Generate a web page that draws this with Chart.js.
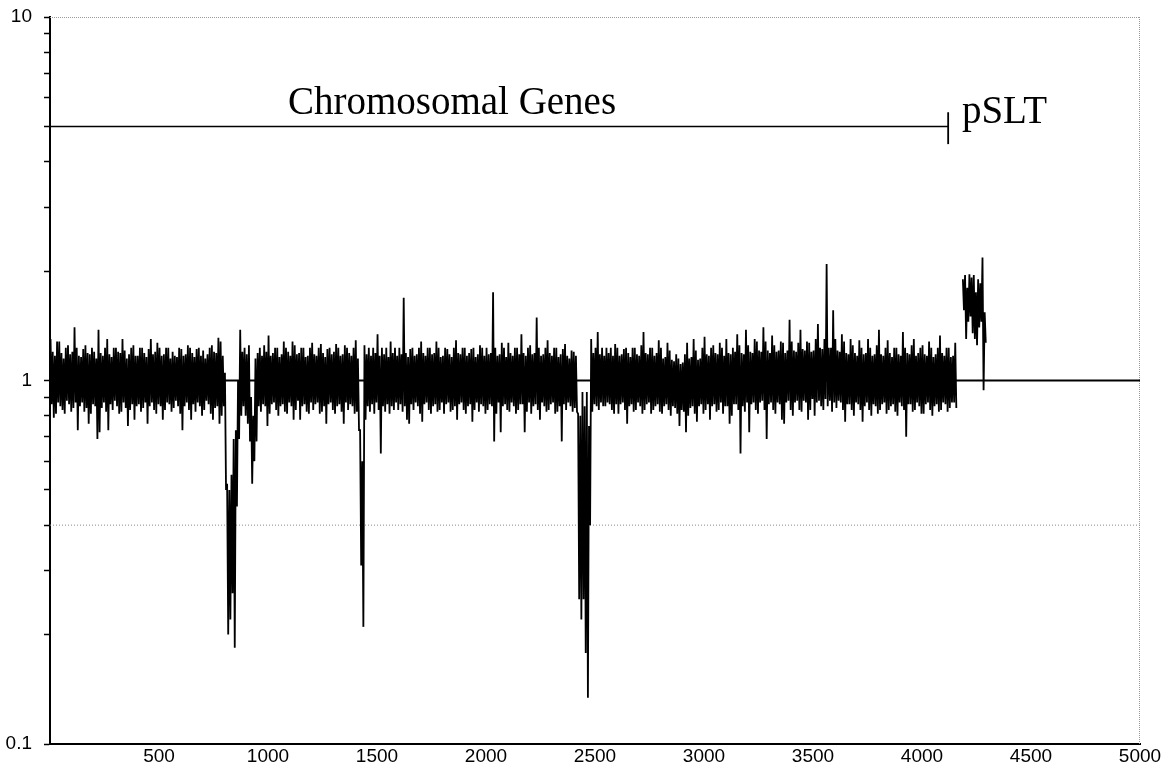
<!DOCTYPE html>
<html>
<head>
<meta charset="utf-8">
<title>Chromosomal Genes / pSLT</title>
<script src="https://cdn.jsdelivr.net/npm/chart.js@4.4.1/dist/chart.umd.min.js"></script>
<style>
  html, body { margin: 0; padding: 0; background: #fff; }
  #wrap { width: 1163px; height: 764px; }
</style>
</head>
<body>
<div id="wrap"><canvas id="ratioChart" width="1163" height="764"></canvas></div>
<script>
const binWidth = 10;

const chromStart = 0;
const chromHigh = [
  1.30,1.20,1.17,1.28,1.28,1.19,1.15,1.23,1.25,1.18,1.20,1.40,1.23,1.17,1.16,1.22,1.25,1.19,1.18,1.23,
  1.20,1.15,1.38,1.19,1.17,1.23,1.30,1.18,1.16,1.23,1.23,1.20,1.19,1.30,1.21,1.15,1.18,1.23,1.25,1.17,
  1.17,1.23,1.23,1.19,1.16,1.22,1.30,1.18,1.20,1.27,1.23,1.17,1.18,1.23,1.23,1.15,1.20,1.17,1.16,1.23,
  1.22,1.17,1.18,1.25,1.23,1.19,1.16,1.22,1.23,1.17,1.21,1.15,1.18,1.23,1.25,1.20,1.19,1.31,1.28,1.17,
  1.05,0.52,0.50,0.55,0.69,0.73,1.00,1.38,1.20,1.23,1.18,1.25,0.90,0.80,1.15,1.19,1.23,1.17,1.25,1.20,
  1.33,1.17,1.19,1.23,1.23,1.16,1.18,1.28,1.23,1.20,1.17,1.28,1.25,1.18,1.19,1.23,1.23,1.16,1.17,1.23,
  1.27,1.18,1.17,1.23,1.26,1.19,1.16,1.22,1.23,1.18,1.20,1.26,1.23,1.17,1.18,1.25,1.23,1.19,1.17,1.23,
  1.29,1.15,0.73,0.60,1.25,1.18,1.23,1.17,1.23,1.19,1.34,1.17,1.23,1.18,1.23,1.16,1.28,1.19,1.23,1.17,
  1.23,1.18,1.69,1.19,1.16,1.22,1.23,1.17,1.18,1.23,1.28,1.19,1.17,1.23,1.23,1.18,1.19,1.28,1.23,1.16,
  1.17,1.23,1.22,1.18,1.16,1.23,1.29,1.19,1.18,1.23,1.23,1.17,1.19,1.22,1.23,1.16,1.18,1.25,1.23,1.17,
  1.23,1.18,1.19,1.75,1.23,1.17,1.18,1.27,1.23,1.16,1.27,1.19,1.17,1.23,1.23,1.18,1.34,1.19,1.17,1.23,
  1.25,1.18,1.19,1.49,1.23,1.17,1.18,1.23,1.29,1.19,1.17,1.23,1.23,1.16,1.18,1.22,1.26,1.17,1.15,1.21,
  1.20,1.17,0.81,0.80,0.93,0.85,0.93,0.75,1.30,1.19,1.23,1.36,1.18,1.23,1.17,1.23,1.19,1.23,1.17,1.26,
  1.23,1.17,1.18,1.22,1.23,1.19,1.16,1.23,1.23,1.18,1.17,1.25,1.36,1.19,1.18,1.23,1.23,1.17,1.19,1.29,
  1.23,1.15,1.16,1.27,1.21,1.14,1.13,1.18,1.15,1.11,1.12,1.18,1.27,1.15,1.16,1.30,1.21,1.14,1.15,1.23,
  1.32,1.18,1.17,1.23,1.25,1.19,1.18,1.27,1.23,1.17,1.30,1.19,1.18,1.23,1.20,1.34,1.25,1.19,1.18,1.38,
  1.25,1.20,1.19,1.30,1.28,1.21,1.20,1.40,1.28,1.21,1.19,1.33,1.25,1.20,1.21,1.28,1.27,1.19,1.21,1.47,
  1.28,1.21,1.20,1.27,1.38,1.22,1.21,1.28,1.27,1.20,1.21,1.30,1.43,1.23,1.22,1.30,2.09,1.23,1.23,1.56,
  1.30,1.21,1.20,1.34,1.28,1.19,1.18,1.30,1.25,1.19,1.17,1.29,1.23,1.18,1.19,1.30,1.23,1.17,1.18,1.25,
  1.38,1.18,1.17,1.23,1.29,1.19,1.16,1.23,1.23,1.18,1.17,1.36,1.23,1.19,1.18,1.25,1.30,1.17,1.19,1.23,
  1.25,1.18,1.17,1.28,1.23,1.16,1.18,1.23,1.33,1.19,1.17,1.23,1.23,1.16,1.17,1.27
];
const chromLow = [
  0.86,0.79,0.81,0.87,0.85,0.83,0.81,0.88,0.86,0.82,0.84,0.87,0.73,0.85,0.87,0.82,0.84,0.76,0.81,0.86,
  0.85,0.69,0.72,0.84,0.87,0.82,0.73,0.86,0.83,0.88,0.85,0.81,0.82,0.87,0.84,0.75,0.83,0.86,0.78,0.85,
  0.86,0.82,0.84,0.87,0.76,0.85,0.87,0.83,0.81,0.86,0.85,0.78,0.83,0.87,0.86,0.82,0.84,0.88,0.85,0.81,
  0.73,0.85,0.87,0.83,0.78,0.86,0.82,0.87,0.85,0.80,0.83,0.88,0.86,0.81,0.78,0.84,0.85,0.76,0.80,0.85,
  0.50,0.20,0.22,0.26,0.184,0.45,0.69,0.80,0.85,0.80,0.76,0.68,0.52,0.60,0.68,0.85,0.82,0.86,0.85,0.75,
  0.81,0.86,0.87,0.83,0.80,0.85,0.86,0.82,0.81,0.87,0.85,0.78,0.83,0.88,0.78,0.85,0.86,0.82,0.81,0.87,
  0.83,0.86,0.87,0.81,0.82,0.85,0.76,0.86,0.87,0.83,0.81,0.85,0.86,0.82,0.76,0.87,0.83,0.86,0.85,0.81,
  0.82,0.73,0.31,0.21,0.78,0.85,0.82,0.86,0.81,0.87,0.83,0.63,0.85,0.82,0.86,0.81,0.85,0.83,0.87,0.83,
  0.86,0.82,0.85,0.78,0.76,0.86,0.83,0.87,0.85,0.81,0.77,0.86,0.87,0.83,0.81,0.85,0.86,0.82,0.83,0.87,
  0.81,0.86,0.87,0.82,0.83,0.85,0.78,0.86,0.87,0.83,0.81,0.85,0.86,0.77,0.83,0.87,0.82,0.86,0.85,0.81,
  0.83,0.86,0.85,0.68,0.81,0.87,0.72,0.85,0.86,0.83,0.82,0.87,0.85,0.81,0.83,0.86,0.86,0.72,0.82,0.87,
  0.81,0.85,0.86,0.83,0.78,0.87,0.85,0.82,0.83,0.86,0.87,0.81,0.82,0.85,0.68,0.86,0.83,0.87,0.85,0.82,
  0.84,0.82,0.25,0.22,0.25,0.178,0.134,0.40,0.82,0.86,0.85,0.83,0.87,0.85,0.85,0.87,0.86,0.83,0.81,0.86,
  0.81,0.86,0.87,0.83,0.76,0.85,0.86,0.82,0.83,0.87,0.85,0.81,0.83,0.86,0.87,0.81,0.83,0.85,0.86,0.82,
  0.81,0.85,0.86,0.83,0.80,0.85,0.84,0.81,0.75,0.83,0.82,0.72,0.80,0.84,0.85,0.81,0.77,0.85,0.86,0.81,
  0.83,0.86,0.78,0.85,0.86,0.82,0.83,0.87,0.81,0.85,0.85,0.76,0.80,0.86,0.86,0.83,0.63,0.85,0.82,0.87,
  0.72,0.86,0.87,0.83,0.81,0.87,0.88,0.83,0.69,0.86,0.87,0.83,0.81,0.87,0.86,0.78,0.76,0.87,0.88,0.83,
  0.80,0.87,0.88,0.83,0.82,0.88,0.87,0.78,0.83,0.89,0.80,0.87,0.88,0.85,0.83,0.89,0.85,0.88,0.82,0.87,
  0.84,0.88,0.87,0.83,0.77,0.86,0.86,0.83,0.80,0.87,0.86,0.83,0.77,0.85,0.87,0.83,0.80,0.86,0.85,0.81,
  0.83,0.86,0.87,0.81,0.83,0.85,0.86,0.82,0.80,0.87,0.85,0.83,0.70,0.86,0.86,0.82,0.83,0.87,0.85,0.81,
  0.81,0.86,0.87,0.83,0.80,0.85,0.86,0.82,0.83,0.87,0.86,0.82,0.84,0.87,0.87,0.84
];

// plasmid genes
const psltStart = 4185;
const psltHigh = [1.90, 1.95, 1.80, 1.96, 1.92, 1.95, 1.75, 1.90, 1.85, 2.18, 1.54];
const psltLow  = [1.56, 1.30, 1.45, 1.50, 1.35, 1.30, 1.25, 1.40, 1.45, 0.94, 1.27];

const xTicks = [500, 1000, 1500, 2000, 2500, 3000, 3500, 4000, 4500, 5000];
const yTicks = [0.1, 0.2, 0.3, 0.4, 0.5, 0.6, 0.7, 0.8, 0.9, 1, 2, 3, 4, 5, 6, 7, 8, 9, 10];
const yLabels = [0.1, 1, 10];

const baselineY = 1;
const cutoffY = 0.4;
const bracketY = 5;
const bracketEnd = 4120;
const bracketTick = [4.47, 5.47];

const regionLabels = [
  { text: 'Chromosomal Genes', x: 1844, y: 5.41, align: 'center' },
  { text: 'pSLT', x: 4183, y: 5.11, align: 'left' }
];

function binPoints(start, high, low) {
  const pts = [];
  high.forEach((h, i) => {
    pts.push({ x: start + i * binWidth + 2.5, y: h });
    pts.push({ x: start + i * binWidth + 7.5, y: low[i] });
  });
  return pts;
}

const series = [
  ...binPoints(chromStart, chromHigh, chromLow),
  { x: 4172, y: null },
  ...binPoints(psltStart, psltHigh, psltLow)
];

const framePlugin = {
  id: 'frame',
  beforeDatasetsDraw(chart) {
    const { ctx, chartArea: a } = chart;
    ctx.save();
    ctx.strokeStyle = '#9a9a9a';
    ctx.lineWidth = 1;
    ctx.setLineDash([1, 1]);
    ctx.beginPath();
    ctx.moveTo(a.left, a.top + 0.5);
    ctx.lineTo(a.right, a.top + 0.5);
    ctx.moveTo(a.right - 0.5, a.top);
    ctx.lineTo(a.right - 0.5, a.bottom);
    ctx.stroke();
    ctx.restore();
  }
};

const labelPlugin = {
  id: 'regionLabels',
  afterDatasetsDraw(chart) {
    const { ctx, scales: { x, y } } = chart;
    ctx.save();
    ctx.fillStyle = '#000';
    ctx.font = '39px "Liberation Serif", "Times New Roman", serif';
    ctx.textBaseline = 'alphabetic';
    regionLabels.forEach(l => {
      ctx.textAlign = l.align;
      ctx.fillText(l.text, x.getPixelForValue(l.x), y.getPixelForValue(l.y));
    });
    ctx.restore();
  }
};

const tickFont = { family: '"Liberation Sans", Arial, sans-serif', size: 19 };

new Chart(document.getElementById('ratioChart'), {
  type: 'line',
  data: {
    datasets: [
      { data: series, borderColor: '#000', borderWidth: 1.8, order: 0 },
      { data: [{ x: 0, y: baselineY }, { x: 5000, y: baselineY }], borderColor: '#000', borderWidth: 1.8, order: 1 },
      { data: [{ x: 0, y: cutoffY }, { x: 5000, y: cutoffY }], borderColor: '#8c8c8c', borderWidth: 1, borderDash: [1, 2], order: 2 },
      { data: [{ x: 0, y: bracketY }, { x: bracketEnd, y: bracketY }], borderColor: '#000', borderWidth: 1.5, order: 1 },
      { data: [{ x: bracketEnd, y: bracketTick[0] }, { x: bracketEnd, y: bracketTick[1] }], borderColor: '#000', borderWidth: 1.8, order: 1 }
    ]
  },
  options: {
    responsive: false,
    animation: false,
    devicePixelRatio: 1,
    spanGaps: false,
    elements: { point: { radius: 0 }, line: { tension: 0 } },
    layout: { padding: { top: 17, right: 23, left: 0, bottom: 0 } },
    plugins: { legend: { display: false }, tooltip: { enabled: false } },
    scales: {
      x: {
        type: 'linear', min: 0, max: 5000,
        afterBuildTicks: s => { s.ticks = xTicks.map(v => ({ value: v })); },
        afterFit: s => { s.height = 20; },
        ticks: { maxRotation: 0, autoSkip: false, padding: 1, color: '#000', font: tickFont, callback: v => String(v) },
        grid: { drawOnChartArea: false, drawTicks: false },
        border: { color: '#000', width: 2 }
      },
      y: {
        type: 'logarithmic', min: 0.1, max: 10,
        afterBuildTicks: s => { s.ticks = yTicks.map(v => ({ value: v })); },
        afterFit: s => { s.width = 50; s.paddingTop = 0; s.paddingBottom = 0; },
        ticks: {
          autoSkip: false, padding: 12, color: '#000', font: tickFont,
          callback: v => yLabels.includes(v) ? String(v) : ''
        },
        grid: { drawOnChartArea: false, tickLength: 6, tickColor: '#000', tickWidth: 1.5 },
        border: { color: '#000', width: 2 }
      }
    }
  },
  plugins: [framePlugin, labelPlugin]
});
</script>
</body>
</html>
